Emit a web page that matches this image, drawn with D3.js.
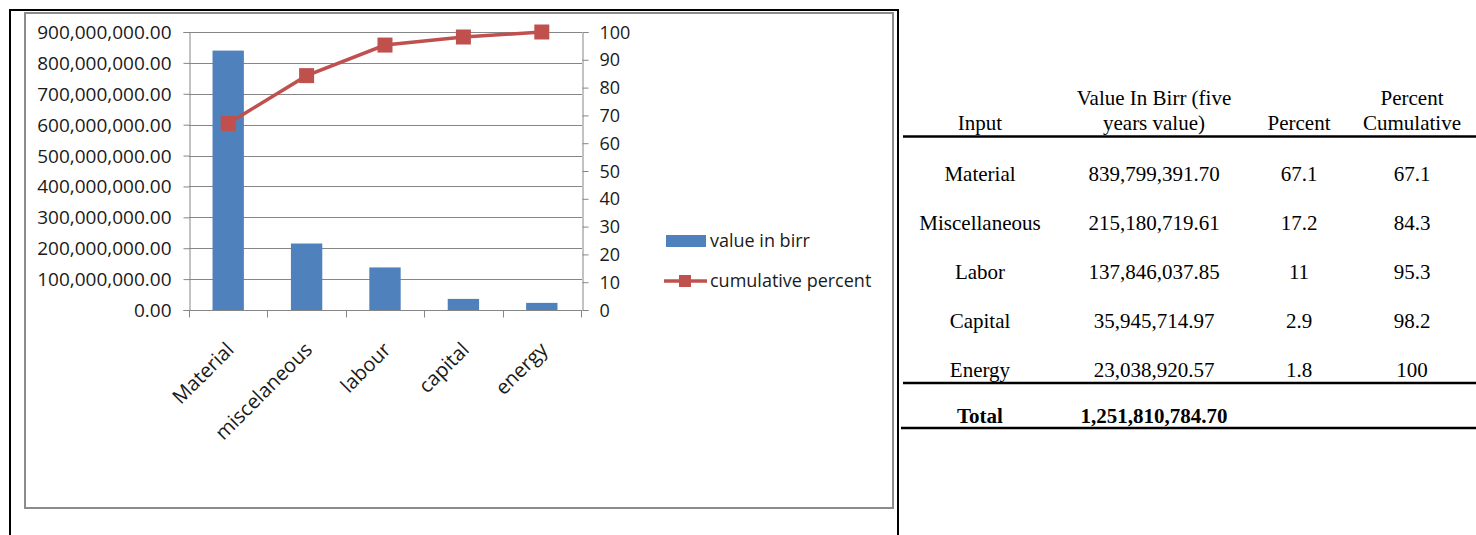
<!DOCTYPE html>
<html>
<head>
<meta charset="utf-8">
<script src="https://cdn.jsdelivr.net/npm/d3@7"></script>
<style>
  html, body { margin: 0; padding: 0; background: #fff; }
  svg { display: block; }
</style>
</head>
<body>
<svg id="fig" width="1476" height="535"></svg>
<script>
// Chart categories and series
const chartCategories = ["Material", "miscelaneous", "labour", "capital", "energy"];
const valueInBirr = [839799391.70, 215180719.61, 137846037.85, 35945714.97, 23038920.57];
const cumulativePercent = [67.1, 84.3, 95.3, 98.2, 100];
const leftTicks = [0, 100000000, 200000000, 300000000, 400000000, 500000000, 600000000, 700000000, 800000000, 900000000];
const rightTicks = [0, 10, 20, 30, 40, 50, 60, 70, 80, 90, 100];
const legendLabels = ["value in birr", "cumulative percent"];

// Table contents
const tableInputs = ["Material", "Miscellaneous", "Labor", "Capital", "Energy"];
const tablePercent = [67.1, 17.2, 11, 2.9, 1.8];
const tableHeader = [["Input"], ["Value In Birr (five", "years value)"], ["Percent"], ["Percent", "Cumulative"]];

const svg = d3.select("#fig");
const BLUE = "#4F81BD", RED = "#C0504D", GRID = "#868686";
const sans = "'Open Sans', sans-serif";
const serif = "'Liberation Serif', 'Times New Roman', serif";

// Page frame lines
svg.append("line").attr("x1", 10).attr("x2", 898).attr("y1", 10).attr("y2", 10).attr("stroke", "#000").attr("stroke-width", 2);
svg.append("line").attr("x1", 10).attr("x2", 10).attr("y1", 9).attr("y2", 535).attr("stroke", "#000").attr("stroke-width", 2);
svg.append("line").attr("x1", 898).attr("x2", 898).attr("y1", 9).attr("y2", 535).attr("stroke", "#000").attr("stroke-width", 2);

// Chart area border
svg.append("rect").attr("x", 25).attr("y", 13).attr("width", 868).attr("height", 495)
  .attr("fill", "#fff").attr("stroke", "#8c8c8c").attr("stroke-width", 2);

// Scales
const x = d3.scaleBand().domain(chartCategories).range([189, 581]).paddingInner(0).paddingOuter(0);
const yL = d3.scaleLinear().domain([0, 900000000]).range([310, 32]);
const yR = d3.scaleLinear().domain([0, 100]).range([310, 32]);

// Horizontal gridlines
svg.append("g").selectAll("line").data(leftTicks.filter(d => d > 0)).join("line")
  .attr("x1", 189).attr("x2", 582)
  .attr("y1", d => Math.round(yL(d)) + 0.5).attr("y2", d => Math.round(yL(d)) + 0.5)
  .attr("stroke", GRID).attr("stroke-width", 1);

// Left axis
const gL = svg.append("g").attr("transform", "translate(189.5,0)")
  .call(d3.axisLeft(yL).tickValues(leftTicks).tickFormat(d3.format(",.2f")).tickSize(6).tickPadding(12));
gL.select(".domain").attr("stroke", GRID);
gL.selectAll(".tick line").attr("stroke", GRID);
gL.selectAll(".tick text").attr("font-family", sans).attr("font-size", 19).attr("fill", "#1a1a1a").attr("dy", "0.34em");

// Right axis
const gR = svg.append("g").attr("transform", "translate(582.5,0)")
  .call(d3.axisRight(yR).tickValues(rightTicks).tickSize(6).tickPadding(11));
gR.select(".domain").attr("stroke", GRID);
gR.selectAll(".tick line").attr("stroke", GRID);
gR.selectAll(".tick text").attr("font-family", sans).attr("font-size", 18).attr("fill", "#1a1a1a").attr("dy", "0.34em");

// Bottom axis with category boundaries as ticks
const gB = svg.append("g").attr("transform", "translate(0,310.5)");
gB.append("line").attr("x1", 189).attr("x2", 582).attr("y1", 0).attr("y2", 0).attr("stroke", GRID);
const bounds = chartCategories.map(c => x(c)).concat([x.range()[1]]);
gB.selectAll("line.tk").data(bounds).join("line").attr("class", "tk")
  .attr("x1", d => Math.round(d) + 0.5).attr("x2", d => Math.round(d) + 0.5)
  .attr("y1", 0).attr("y2", 7).attr("stroke", GRID);

// Bars
const barW = x.bandwidth() * 0.4;
svg.append("g").selectAll("rect").data(valueInBirr).join("rect")
  .attr("x", (d, i) => x(chartCategories[i]) + (x.bandwidth() - barW) / 2)
  .attr("y", d => yL(d))
  .attr("width", barW)
  .attr("height", d => yL(0) - yL(d))
  .attr("fill", BLUE);

// Category labels
svg.append("g").selectAll("text").data(chartCategories).join("text")
  .attr("transform", d => `translate(${x(d) + x.bandwidth() / 2 + 2},${346}) rotate(-45)`)
  .attr("text-anchor", "end")
  .attr("dy", "0.35em")
  .attr("font-family", sans).attr("font-size", 20).attr("fill", "#1a1a1a")
  .text(d => d);

// Cumulative percent line
const cx = (d, i) => x(chartCategories[i]) + x.bandwidth() / 2;
svg.append("path").datum(cumulativePercent)
  .attr("d", d3.line().x(cx).y(d => yR(d)))
  .attr("fill", "none").attr("stroke", RED).attr("stroke-width", 3.5);
const MS = 15;
svg.append("g").selectAll("rect").data(cumulativePercent).join("rect")
  .attr("x", (d, i) => cx(d, i) - MS / 2).attr("y", d => yR(d) - MS / 2)
  .attr("width", MS).attr("height", MS).attr("fill", RED);

// Legend
const lg = svg.append("g");
lg.append("rect").attr("x", 666).attr("y", 235).attr("width", 40).attr("height", 12).attr("fill", BLUE);
lg.append("line").attr("x1", 664).attr("x2", 707).attr("y1", 281).attr("y2", 281).attr("stroke", RED).attr("stroke-width", 3.5);
lg.append("rect").attr("x", 679).attr("y", 275).attr("width", 12).attr("height", 12).attr("fill", RED);
lg.selectAll("text").data(legendLabels).join("text")
  .attr("x", 710).attr("y", (d, i) => 241 + i * 40).attr("dy", "0.35em")
  .attr("font-family", sans).attr("font-size", 18).attr("fill", "#1a1a1a")
  .text(d => d);

// Table
const colX = [980, 1154, 1299, 1412];
const fmt = d3.format(",.2f");
const tg = svg.append("g").attr("font-family", serif).attr("font-size", 21).attr("fill", "#000").attr("text-anchor", "middle");

tableHeader.forEach((lines, c) => {
  lines.forEach((t, k) => {
    tg.append("text").attr("x", colX[c]).attr("y", 130 - (lines.length - 1 - k) * 25).text(t);
  });
});

const rows = tableInputs.map((name, i) =>
  [name, fmt(valueInBirr[i]), String(tablePercent[i]), String(cumulativePercent[i])]);
rows.forEach((r, i) => {
  r.forEach((t, c) => {
    tg.append("text").attr("x", colX[c]).attr("y", 181 + i * 49).text(t);
  });
});

const total = d3.sum(valueInBirr);
tg.append("text").attr("x", colX[0]).attr("y", 423).attr("font-weight", "bold").text("Total");
tg.append("text").attr("x", colX[1]).attr("y", 423).attr("font-weight", "bold").text(fmt(total));

// Table rules
[[136.5, 903], [383, 903], [428, 901]].forEach(([y, x0]) => {
  svg.append("line").attr("x1", x0).attr("x2", 1476).attr("y1", y).attr("y2", y).attr("stroke", "#000").attr("stroke-width", 2.5);
});
</script>
</body>
</html>
